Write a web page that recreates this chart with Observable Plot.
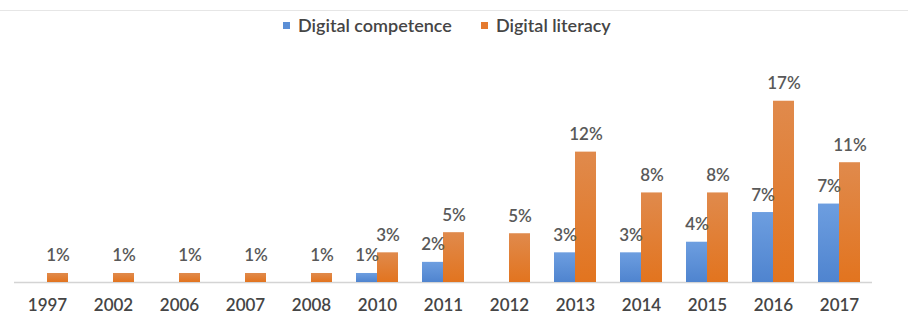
<!DOCTYPE html>
<html>
<head>
<meta charset="utf-8">
<script src="https://cdn.jsdelivr.net/npm/d3@7"></script>
<script src="https://cdn.jsdelivr.net/npm/@observablehq/plot@0.6"></script>
<style>
  html, body { margin: 0; padding: 0; background: #fff; }
  #wrap { position: relative; width: 908px; height: 317px; overflow: hidden; font-family: "Lato", sans-serif; }
  #topline { position: absolute; left: 0; top: 10px; width: 908px; height: 0; border-top: 1px solid #e6e6e6; }
  #legend { position: absolute; left: 283px; top: 14px; height: 22px; display: flex; align-items: center; font-size: 18px; font-weight: 600; color: #454545; white-space: nowrap; }
  .item { display: flex; align-items: center; margin-right: 29px; }
  .sw { width: 7px; height: 7px; margin-right: 8px; }
  #chart { position: absolute; left: 0; top: 40px; }
</style>
</head>
<body>
<div id="wrap">
  <div id="topline"></div>
  <div id="legend"></div>
  <div id="chart"></div>
</div>
<script>
const years = ["1997","2002","2006","2007","2008","2010","2011","2012","2013","2014","2015","2016","2017"];
const seriesNames = ["Digital competence", "Digital literacy"];
const seriesColors = ["#5b8fd6", "#e57a2e"];
const competence = [null, null, null, null, null, 0.85, 1.9, null, 2.8, 2.8, 3.8, 6.6, 7.4];
const literacy = [0.85, 0.85, 0.85, 0.85, 0.85, 2.8, 4.7, 4.6, 12.3, 8.45, 8.45, 17.1, 11.3];

const table = years.flatMap((yr, i) => [
  {year: yr, series: seriesNames[0], value: competence[i]},
  {year: yr, series: seriesNames[1], value: literacy[i]}
]).filter(d => d.value != null);

// legend
const legend = d3.select("#legend");
seriesNames.forEach((name, i) => {
  const it = legend.append("div").attr("class", "item");
  it.append("div").attr("class", "sw").style("background", seriesColors[i]);
  it.append("span").text(name);
});

const svg = Plot.plot({
  width: 908,
  height: 277,
  marginLeft: 11,
  marginRight: 33,
  marginTop: 30,
  marginBottom: 35,
  style: {fontFamily: "Lato, sans-serif", fontSize: "17px", fontWeight: 600, color: "#454545", background: "transparent"},
  fx: {domain: years, paddingInner: 0, paddingOuter: 0, label: null, tickSize: 0, tickPadding: 16},
  x: {domain: seriesNames, paddingInner: 0, paddingOuter: 0.51, axis: null},
  y: {domain: [0, 20], axis: null},
  marks: [
    Plot.ruleY([0], {stroke: "#d4d4d4", strokeWidth: 1.5}),
    Plot.barY(table.filter(d => d.series === seriesNames[0]), {fx: "year", x: "series", y: "value", fill: "url(#gradBlue)"}),
    Plot.barY(table.filter(d => d.series === seriesNames[1]), {fx: "year", x: "series", y: "value", fill: "url(#gradOrange)"}),
    Plot.text(table, {fx: "year", x: "series", y: "value", text: d => `${Math.round(d.value)}%`, lineAnchor: "bottom", dy: -12, fill: "#595959", fontSize: 17, fontWeight: 600})
  ]
});

const defs = d3.select(svg).insert("defs", ":first-child");
const g1 = defs.append("linearGradient").attr("id", "gradBlue").attr("x1", 0).attr("y1", 0).attr("x2", 0).attr("y2", 1);
g1.append("stop").attr("offset", "0%").attr("stop-color", "#6d9ee0");
g1.append("stop").attr("offset", "100%").attr("stop-color", "#4f84cf");
const g2 = defs.append("linearGradient").attr("id", "gradOrange").attr("x1", 0).attr("y1", 0).attr("x2", 0).attr("y2", 1);
g2.append("stop").attr("offset", "0%").attr("stop-color", "#e08a4c");
g2.append("stop").attr("offset", "100%").attr("stop-color", "#e2741f");

document.getElementById("chart").appendChild(svg);
</script>
</body>
</html>
